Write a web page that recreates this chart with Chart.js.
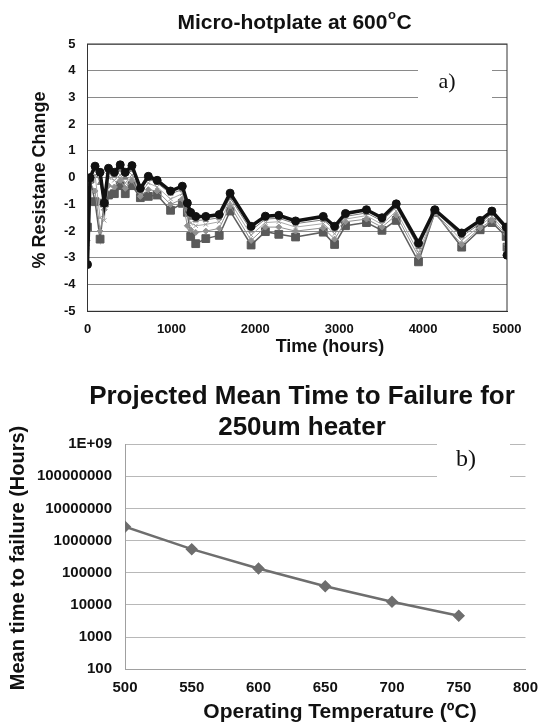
<!DOCTYPE html>
<html>
<head>
<meta charset="utf-8">
<script src="https://cdn.jsdelivr.net/npm/chart.js@4.4.1/dist/chart.umd.min.js"></script>
<style>
  html, body { margin: 0; padding: 0; background: #fff; }
  #wrap { position: relative; width: 548px; height: 724px; }
  #chartA { position: absolute; left: 0; top: 0; }
  #chartB { position: absolute; left: 0; top: 360px; }
</style>
</head>
<body>
<div id="wrap">
  <canvas id="chartA" width="548" height="360"></canvas>
  <canvas id="chartB" width="548" height="364"></canvas>
</div>
<script>
// --- chart a) resistance change vs time ---
const hours = [0, 30, 90, 150, 200, 250, 320, 390, 450, 530, 630, 725, 830, 990, 1130, 1190, 1230, 1290, 1410, 1570,
  1700, 1950, 2120, 2280, 2480, 2810, 2945, 3075, 3325, 3510, 3680, 3945, 4140, 4460, 4680, 4820, 4990, 5000];
const sampleBlack = [-3.25, 0.0, 0.43, 0.2, -0.95, 0.35, 0.2, 0.48, 0.2, 0.45, -0.4, 0.05, -0.1, -0.5, -0.32, -0.95, -1.3, -1.45, -1.45, -1.38,
  -0.58, -1.82, -1.44, -1.41, -1.62, -1.45, -1.82, -1.34, -1.2, -1.5, -0.98, -2.45, -1.2, -2.07, -1.6, -1.25, -1.85, -2.9];
const sampleTri = [-2.3, 0.0, 0.3, -0.2, -1.0, 0.2, 0.1, 0.3, 0.0, 0.3, -0.5, -0.05, -0.2, -0.6, -0.45, -1.1, -1.5, -1.6, -1.58, -1.5,
  -0.75, -1.98, -1.55, -1.52, -1.72, -1.58, -1.95, -1.45, -1.32, -1.62, -1.1, -2.6, -1.25, -2.2, -1.72, -1.35, -1.95, -2.8];
const sampleCross = [-2.6, -0.1, 0.1, -1.5, -1.6, 0.0, -0.1, 0.1, -0.2, 0.1, -0.6, -0.2, -0.35, -0.8, -0.6, -1.4, -1.7, -1.8, -1.75, -1.65,
  -0.9, -2.15, -1.68, -1.65, -1.85, -1.72, -2.1, -1.55, -1.42, -1.75, -1.25, -2.8, -1.3, -2.35, -1.8, -1.45, -2.05, -2.7];
const sampleDiamond = [-2.0, -0.2, -0.5, -2.0, -1.2, -0.3, -0.35, -0.1, -0.4, -0.1, -0.7, -0.45, -0.5, -1.0, -0.8, -1.8, -1.95, -2.05, -2.0, -1.9,
  -1.05, -2.35, -1.85, -1.85, -2.0, -1.88, -2.3, -1.65, -1.55, -1.85, -1.4, -2.95, -1.35, -2.5, -1.88, -1.6, -2.1, -2.5];
const sampleSquare = [-1.85, -0.05, -0.9, -2.3, -0.95, -0.65, -0.6, -0.3, -0.6, -0.3, -0.75, -0.7, -0.65, -1.22, -0.96, -1.3, -2.2, -2.47, -2.28, -2.16,
  -1.25, -2.52, -2.02, -2.12, -2.22, -2.04, -2.5, -1.8, -1.68, -1.97, -1.6, -3.15, -1.3, -2.6, -1.95, -1.68, -2.2, -2.6];
const timeTicks = [0, 1000, 2000, 3000, 4000, 5000];
const changeTicks = [5, 4, 3, 2, 1, 0, -1, -2, -3, -4, -5];

// --- chart b) projected MTTF ---
const temps = [500, 550, 600, 650, 700, 750];
const mttf = [2.7e6, 5.4e5, 1.35e5, 3.8e4, 1.25e4, 4.6e3];
const tempTicks = [500, 550, 600, 650, 700, 750, 800];
const mttfTicks = [100, 1000, 10000, 100000, 1000000, 10000000, 100000000, 1000000000];

const SANS = 'Arial, "Liberation Sans", sans-serif';
const SERIF = '"Times New Roman", "Liberation Serif", serif';

const toPoints = (ys) => hours.map((h, i) => ({ x: h, y: ys[i] }));

document.addEventListener('DOMContentLoaded', () => {
    const boldText = (ctx, txt, x, y, size, align) => {
        ctx.font = `bold ${size}px ${SANS}`;
        ctx.textAlign = align || 'center';
        ctx.textBaseline = 'middle';
        ctx.fillStyle = '#111';
        ctx.fillText(txt, x, y);
    };

    const labelBox = (ctx, txt, x0, y0, w, h, tx, size) => {
        ctx.fillStyle = '#fff';
        ctx.fillRect(x0, y0, w, h);
        ctx.font = `${size}px ${SERIF}`;
        ctx.textAlign = 'center';
        ctx.textBaseline = 'middle';
        ctx.fillStyle = '#111';
        ctx.fillText(txt, tx, y0 + h / 2);
    };

    const decorA = {
        id: 'decorA',
        afterDraw(chart) {
            const ctx = chart.ctx;
            const a = chart.chartArea;
            ctx.save();
            ctx.strokeStyle = '#333';
            ctx.lineWidth = 1;
            ctx.strokeRect(a.left, a.top, a.right - a.left, a.bottom - a.top);
            labelBox(ctx, 'a)', 418, 60, 74, 44, 447, 22);

            // title with superscript o
            ctx.textBaseline = 'alphabetic';
            ctx.fillStyle = '#111';
            ctx.textAlign = 'left';
            const p1 = 'Micro-hotplate at 600', p2 = 'o', p3 = 'C';
            ctx.font = `bold 21px ${SANS}`;
            const w1 = ctx.measureText(p1).width, w3 = ctx.measureText(p3).width;
            ctx.font = `bold 13px ${SANS}`;
            const w2 = ctx.measureText(p2).width;
            let x = 294 - (w1 + w2 + w3) / 2;
            ctx.font = `bold 21px ${SANS}`;
            ctx.fillText(p1, x, 29);
            ctx.font = `bold 13px ${SANS}`;
            ctx.fillText(p2, x + w1 + 0.5, 19);
            ctx.font = `bold 21px ${SANS}`;
            ctx.fillText(p3, x + w1 + w2 + 1, 29);

            boldText(ctx, 'Time (hours)', 330, 347, 18);
            ctx.translate(40, 180);
            ctx.rotate(-Math.PI / 2);
            boldText(ctx, '% Resistane Change', 0, 0, 18);
            ctx.restore();
        }
    };

    const decorB = {
        id: 'decorB',
        afterDraw(chart) {
            const ctx = chart.ctx;
            ctx.save();
            labelBox(ctx, 'b)', 437, 78, 73, 44, 466, 24);
            boldText(ctx, 'Projected Mean Time to Failure for', 302, 37, 26);
            boldText(ctx, '250um heater', 302, 68, 26);
            boldText(ctx, 'Operating Temperature (\u00baC)', 340, 352, 21);
            ctx.translate(18, 198);
            ctx.rotate(-Math.PI / 2);
            boldText(ctx, 'Mean time to failure (Hours)', 0, 0, 20);
            ctx.restore();
        }
    };

    const lineSet = (label, ys, color, width, style, radius, fill) => ({
        label: label,
        data: toPoints(ys),
        borderColor: color,
        borderWidth: width,
        pointStyle: style,
        pointRadius: radius,
        pointBackgroundColor: fill,
        pointBorderColor: fill,
        pointBorderWidth: 1,
        tension: 0
    });

    new Chart(document.getElementById('chartA').getContext('2d'), {
        type: 'line',
        data: {
            datasets: [
                lineSet('Black', sampleBlack, '#111', 3.5, 'circle', 4, '#111'),
                lineSet('Tri', sampleTri, '#7a7a7a', 1, 'triangle', 3, '#7a7a7a'),
                lineSet('Cross', sampleCross, '#a8a8a8', 1, 'crossRot', 3, '#9a9a9a'),
                lineSet('Diamond', sampleDiamond, '#909090', 1, 'rectRot', 3, '#909090'),
                lineSet('Square', sampleSquare, '#5e5e5e', 1.5, 'rect', 5.5, '#5a5a5a')
            ]
        },
        options: {
            responsive: false,
            animation: false,
            events: [],
            layout: { padding: { left: 0, right: 41, top: 44, bottom: 0 } },
            plugins: { legend: { display: false }, title: { display: false }, tooltip: { enabled: false } },
            scales: {
                x: {
                    type: 'linear',
                    min: 0,
                    max: 5000,
                    afterBuildTicks: (scale) => { scale.ticks = timeTicks.map(v => ({ value: v })); },
                    afterFit: (scale) => { scale.height = 48.7; },
                    grid: { display: false, drawTicks: false },
                    border: { display: true, color: '#333' },
                    ticks: {
                        color: '#111', padding: 10, maxRotation: 0,
                        font: { family: SANS, size: 13, weight: 'bold' },
                        callback: (v) => String(v)
                    }
                },
                y: {
                    min: -5,
                    max: 5,
                    afterBuildTicks: (scale) => { scale.ticks = changeTicks.map(v => ({ value: v })); },
                    afterFit: (scale) => { scale.width = 87.5; },
                    grid: { color: '#8a8a8a', lineWidth: 1, drawTicks: false },
                    border: { display: true, color: '#333' },
                    ticks: { color: '#111', padding: 12, font: { family: SANS, size: 13, weight: 'bold' } }
                }
            }
        },
        plugins: [decorA]
    });

    new Chart(document.getElementById('chartB').getContext('2d'), {
        type: 'line',
        data: {
            datasets: [{
                label: 'MTTF',
                data: temps.map((t, i) => ({ x: t, y: mttf[i] })),
                borderColor: '#6e6e6e',
                borderWidth: 2.5,
                pointStyle: 'rectRot',
                pointRadius: 4.5,
                pointBackgroundColor: '#6e6e6e',
                pointBorderColor: '#6e6e6e',
                tension: 0
            }]
        },
        options: {
            responsive: false,
            animation: false,
            events: [],
            layout: { padding: { left: 0, right: 19, top: 84, bottom: 0 } },
            plugins: { legend: { display: false }, title: { display: false }, tooltip: { enabled: false } },
            scales: {
                x: {
                    type: 'linear',
                    min: 500,
                    max: 800,
                    afterBuildTicks: (scale) => { scale.ticks = tempTicks.map(v => ({ value: v })); },
                    afterFit: (scale) => { scale.height = 54.7; },
                    grid: { display: false, drawTicks: false },
                    border: { display: true, color: '#a0a0a0' },
                    ticks: { color: '#111', padding: 10, maxRotation: 0, font: { family: SANS, size: 15, weight: 'bold' } }
                },
                y: {
                    type: 'logarithmic',
                    min: 100,
                    max: 1e9,
                    afterBuildTicks: (scale) => { scale.ticks = mttfTicks.map(v => ({ value: v })); },
                    afterFit: (scale) => { scale.width = 125; },
                    grid: { color: '#b8b8b8', lineWidth: 1, drawTicks: false },
                    border: { display: true, color: '#a0a0a0' },
                    ticks: {
                        color: '#111',
                        padding: 13,
                        font: { family: SANS, size: 15, weight: 'bold' },
                        callback: (v) => v >= 1e9 ? '1E+09' : String(Math.round(v))
                    }
                }
            }
        },
        plugins: [decorB]
    });
});
</script>
</body>
</html>
